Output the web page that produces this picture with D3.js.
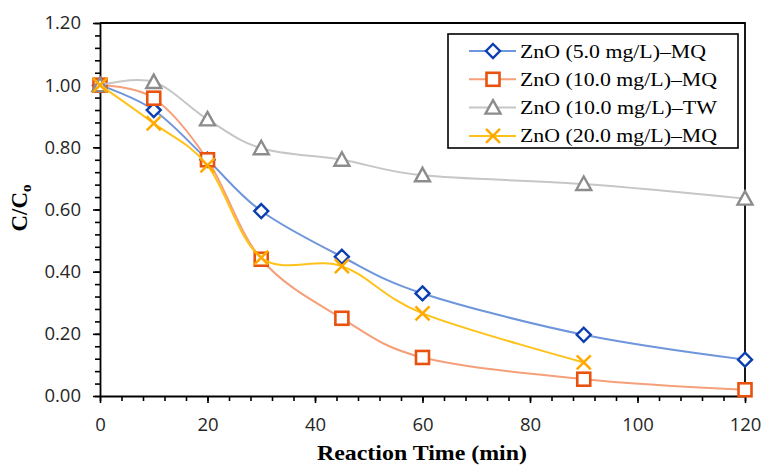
<!DOCTYPE html>
<html>
<head>
<meta charset="utf-8">
<script src="https://cdn.jsdelivr.net/npm/d3@7/dist/d3.min.js"></script>
<style>
  html, body { margin: 0; padding: 0; background: #fff; }
  svg { display: block; }
</style>
</head>
<body>
<svg id="chart" width="764" height="466"></svg>
<script>
// ---- data ----
const times = [0, 10, 20, 30, 45, 60, 90, 120];
const seriesNames = [
  "ZnO (5.0 mg/L)\u2013MQ",
  "ZnO (10.0 mg/L)\u2013MQ",
  "ZnO (10.0 mg/L)\u2013TW",
  "ZnO (20.0 mg/L)\u2013MQ"
];
const zno5MQ  = [1.00, 0.92, 0.76, 0.595, 0.448, 0.33, 0.197, 0.117];
const zno10MQ = [1.00, 0.958, 0.76, 0.44, 0.25, 0.124, 0.054, 0.02];
const zno10TW = [1.00, 1.01, 0.89, 0.797, 0.76, 0.71, 0.682, 0.635];
const zno20MQ = [1.00, 0.877, 0.742, 0.445, 0.418, 0.266, 0.108];
const xTicks = [0, 20, 40, 60, 80, 100, 120];
const yTicks = [0, 0.2, 0.4, 0.6, 0.8, 1.0, 1.2];

const series = [
  { name: seriesNames[0], values: zno5MQ,  line: "#6f96dc", mark: "#0b3fb0", shape: "diamond" },
  { name: seriesNames[1], values: zno10MQ, line: "#f5a07a", mark: "#e8520e", shape: "square" },
  { name: seriesNames[2], values: zno10TW, line: "#c6c6c6", mark: "#8c8c8c", shape: "triangle" },
  { name: seriesNames[3], values: zno20MQ, line: "#ffc21a", mark: "#ffaa00", shape: "cross" }
];

// ---- layout ----
const svg = d3.select("#chart");
const L = 100, R = 745, T = 23, B = 396;
const x = d3.scaleLinear().domain([0, 120]).range([L, R]);
const y = d3.scaleLinear().domain([0, 1.2]).range([B, T]);

const tickFont = "'Open Sans', sans-serif";
const serif = "'Liberation Serif', 'Times New Roman', serif";

// minor ticks
svg.append("g").attr("transform", `translate(0,${B})`)
  .call(d3.axisBottom(x).tickValues(d3.range(0, 121, 4)).tickSizeInner(5).tickSizeOuter(0).tickFormat(""))
  .call(g => g.selectAll("line").attr("stroke", "#000").attr("stroke-width", 1.6))
  .call(g => g.select(".domain").remove());
svg.append("g").attr("transform", `translate(${L},0)`)
  .call(d3.axisLeft(y).tickValues(d3.range(0, 31).map(i => i * 0.04)).tickSizeInner(5).tickSizeOuter(0).tickFormat(""))
  .call(g => g.selectAll("line").attr("stroke", "#000").attr("stroke-width", 1.6))
  .call(g => g.select(".domain").remove());

// major axes
svg.append("g").attr("transform", `translate(0,${B})`)
  .call(d3.axisBottom(x).tickValues(xTicks).tickSizeInner(7).tickSizeOuter(0).tickPadding(15).tickFormat(d3.format("d")))
  .call(g => g.select(".domain").attr("stroke", "#000").attr("stroke-width", 1.8))
  .call(g => g.selectAll("line").attr("stroke", "#000").attr("stroke-width", 1.6))
  .call(g => g.selectAll("text").attr("fill", "#262626").style("font-family", tickFont).style("font-size", "18.5px"));
svg.append("g").attr("transform", `translate(${L},0)`)
  .call(d3.axisLeft(y).tickValues(yTicks).tickSizeInner(7).tickSizeOuter(0).tickPadding(12).tickFormat(d3.format(".2f")))
  .call(g => g.select(".domain").attr("stroke", "#000").attr("stroke-width", 1.8))
  .call(g => g.selectAll("line").attr("stroke", "#000").attr("stroke-width", 1.6))
  .call(g => g.selectAll("text").attr("fill", "#262626").style("font-family", tickFont).style("font-size", "18.5px"));

// plot frame top & right
svg.append("path")
  .attr("d", `M${x(0)},${y(1.2)}H${x(120)}V${y(0)}`)
  .attr("fill", "none").attr("stroke", "#000").attr("stroke-width", 1.8);

// markers
function drawMarker(g, shape, color, cx, cy) {
  const s = 7;
  if (shape === "diamond") {
    g.append("path").attr("d", `M${cx},${cy - s}L${cx + s},${cy}L${cx},${cy + s}L${cx - s},${cy}Z`)
      .attr("fill", "#fff").attr("stroke", color).attr("stroke-width", 2.4);
  } else if (shape === "square") {
    g.append("rect").attr("x", cx - 6.5).attr("y", cy - 6.5).attr("width", 13).attr("height", 13)
      .attr("fill", "#fff").attr("stroke", color).attr("stroke-width", 2.6);
  } else if (shape === "triangle") {
    g.append("path").attr("d", `M${cx},${cy - 7.5}L${cx + 7.5},${cy + 6}L${cx - 7.5},${cy + 6}Z`)
      .attr("fill", "#fff").attr("stroke", color).attr("stroke-width", 2.4);
  } else {
    g.append("path").attr("d", `M${cx - 7},${cy - 7}L${cx + 7},${cy + 7}M${cx + 7},${cy - 7}L${cx - 7},${cy + 7}`)
      .attr("fill", "none").attr("stroke", color).attr("stroke-width", 2.6);
  }
}

const line = d3.line().curve(d3.curveCardinal.tension(0));
series.forEach(s => {
  const pts = s.values.map((v, i) => [x(times[i]), y(v)]);
  const g = svg.append("g");
  g.append("path").attr("d", line(pts)).attr("fill", "none")
    .attr("stroke", s.line).attr("stroke-width", 2);
  pts.forEach(p => drawMarker(g, s.shape, s.mark, p[0], p[1]));
});

// legend
const lg = svg.append("g");
lg.append("rect").attr("x", 448).attr("y", 34).attr("width", 290).attr("height", 114)
  .attr("fill", "#fff").attr("stroke", "#000").attr("stroke-width", 1.6);
const legendLens = [186, 197, 197, 197];
series.forEach((s, i) => {
  const cy = 51 + i * 28.3;
  lg.append("line").attr("x1", 469).attr("x2", 516).attr("y1", cy).attr("y2", cy)
    .attr("stroke", s.line).attr("stroke-width", 2);
  drawMarker(lg, s.shape, s.mark, 493, cy);
  lg.append("text").attr("x", 520).attr("y", cy + 6.5)
    .attr("textLength", legendLens[i]).attr("lengthAdjust", "spacingAndGlyphs")
    .style("font-family", serif).style("font-size", "19.5px").attr("fill", "#000")
    .text(s.name);
});

// axis titles
svg.append("text").attr("x", 422).attr("y", 460).attr("text-anchor", "middle")
  .attr("textLength", 210).attr("lengthAdjust", "spacingAndGlyphs")
  .style("font-family", serif).style("font-size", "21px").style("font-weight", "bold")
  .text("Reaction Time (min)");

const yt = svg.append("text").attr("transform", "translate(27,208) rotate(-90)")
  .attr("text-anchor", "middle")
  .style("font-family", serif).style("font-size", "23px").style("font-weight", "bold");
yt.append("tspan").text("C/C");
yt.append("tspan").attr("dy", 4).style("font-size", "15px").text("o");
</script>
</body>
</html>
